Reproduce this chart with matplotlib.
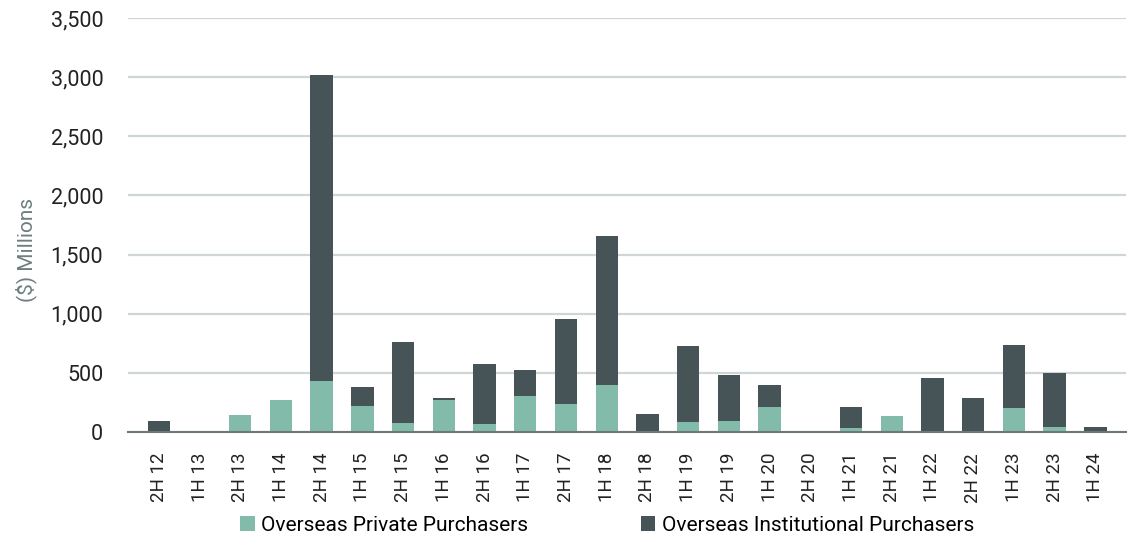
import matplotlib.pyplot as plt
import numpy as np

periods = ["2H 12", "1H 13", "2H 13", "1H 14", "2H 14", "1H 15", "2H 15", "1H 16",
           "2H 16", "1H 17", "2H 17", "1H 18", "2H 18", "1H 19", "2H 19", "1H 20",
           "2H 20", "1H 21", "2H 21", "1H 22", "2H 22", "1H 23", "2H 23", "1H 24"]

# overseas private purchasers ($ millions)
private = [0, 0, 145, 273, 431, 222, 73, 267,
           70, 307, 237, 394, 0, 81, 90, 211,
           0, 30, 138, 0, 0, 200, 39, 0]

# overseas institutional purchasers ($ millions)
institutional = [93, 0, 0, 0, 2589, 155, 691, 23,
                 502, 217, 719, 1267, 152, 647, 392, 189,
                 0, 178, 0, 459, 288, 533, 463, 42]

plt.rcParams['font.family'] = ['Roboto', 'DejaVu Sans']

teal = "#82bbaa"
dark = "#465457"

fig = plt.figure(figsize=(11.35, 5.37), dpi=100)
ax = fig.add_axes([0.113, 0.1955, 0.879, 0.771])

x = np.arange(len(periods))
ax.bar(x, private, width=0.55, color=teal, linewidth=0,
       label="Overseas Private Purchasers", zorder=3)
ax.bar(x, institutional, width=0.55, bottom=private, color=dark, linewidth=0,
       label="Overseas Institutional Purchasers", zorder=3)

ax.set_ylim(0, 3500)
ax.set_xlim(-0.75, len(periods) - 0.25)
ax.set_yticks(range(0, 3501, 500))
ax.set_yticklabels([f"{v:,}" for v in range(0, 3501, 500)])
ax.set_xticks(x)
ax.set_xticklabels(periods, rotation=90)

ax.grid(axis="y", color="#d0d6d6", linewidth=1.6, zorder=0)
for s in ["top", "right", "left"]:
    ax.spines[s].set_visible(False)
ax.spines["bottom"].set_color("#6e7878")
ax.spines["bottom"].set_linewidth(1.5)
ax.spines["bottom"].set_zorder(4)

ax.tick_params(axis="y", length=0, pad=18, labelsize=15.5, labelcolor="#222222")
ax.tick_params(axis="x", length=0, pad=15, labelsize=13.5, labelcolor="#222222")

ax.set_ylabel("($) Millions", fontsize=15, color="#6e7e7e")
ax.yaxis.set_label_coords(-0.091, 0.44)

ax.legend(loc="center", bbox_to_anchor=(0.48, -0.225), ncol=2, frameon=False,
          fontsize=15, handlelength=0.7, handleheight=0.7, handletextpad=0.3,
          columnspacing=5.4, borderpad=0.2)

fig.savefig("out.png", dpi=100)
